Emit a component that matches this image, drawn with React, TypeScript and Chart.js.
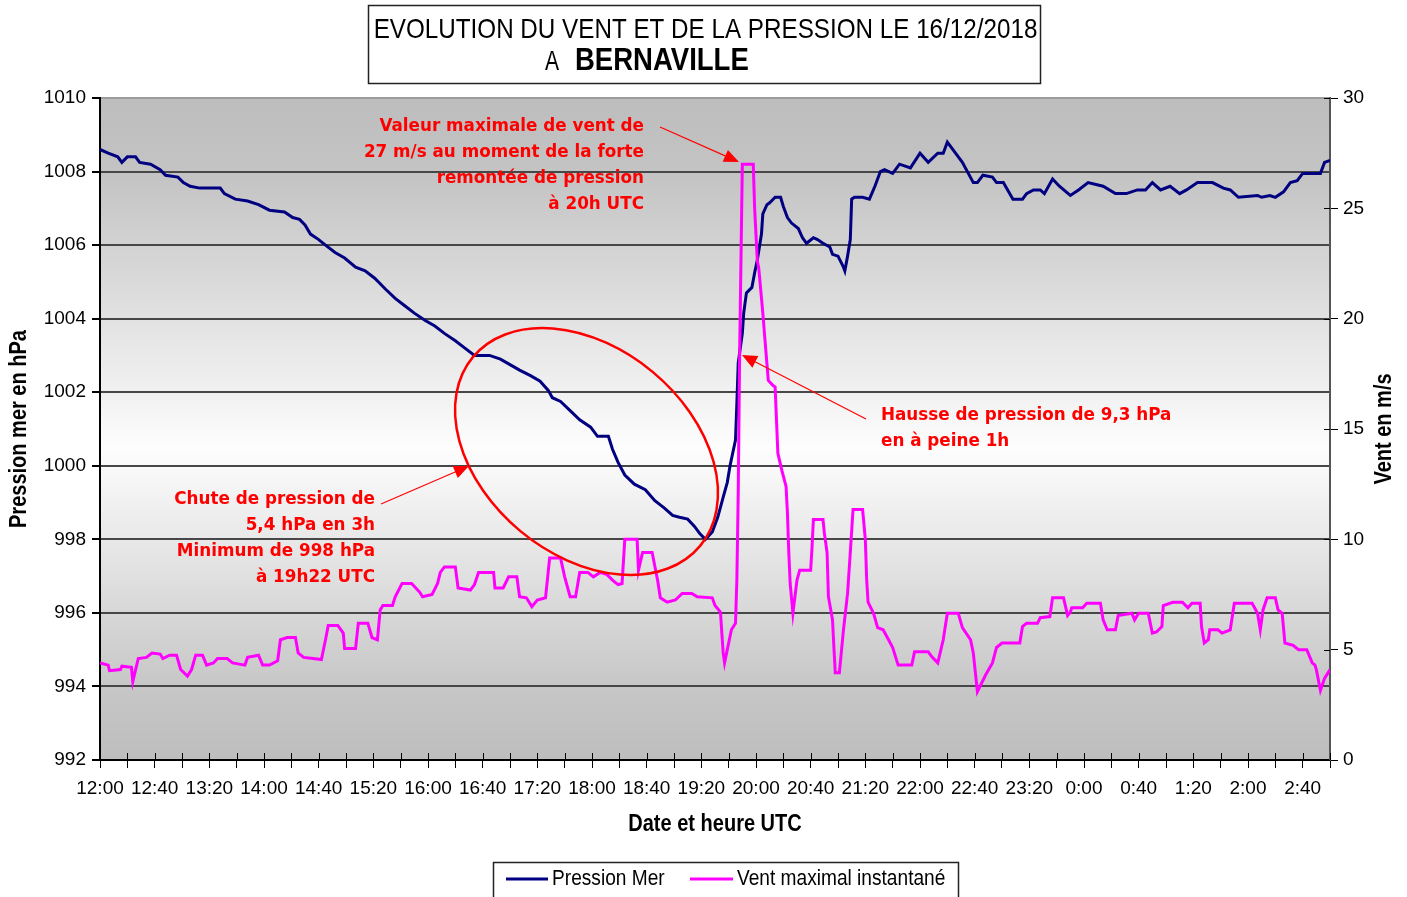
import React, { useEffect, useRef } from 'react';
import { Chart, registerables } from 'chart.js';

Chart.register(...registerables);

// ---------- texts ----------
const titleLine1 = 'EVOLUTION DU VENT ET DE LA PRESSION LE 16/12/2018';
const titlePrefix = 'A';
const titleStation = 'BERNAVILLE';
const pressureLabel = 'Pression Mer';
const windLabel = 'Vent maximal instantané';
const xAxisTitle = 'Date et heure UTC';
const yLeftTitle = 'Pression mer en hPa';
const yRightTitle = 'Vent en m/s';
const noteTop = ['Valeur maximale de vent de', '27 m/s au moment de la forte', 'remontée de pression', 'à 20h UTC'];
const noteRise = ['Hausse de pression de 9,3 hPa', 'en à peine 1h'];
const noteDrop = ['Chute de pression de', '5,4 hPa en 3h', 'Minimum de 998 hPa', 'à 19h22 UTC'];

// ---------- axes ----------
const xStart = '12:00';
const xEnd = '3:00';
const xTickStep = 20; // minutes
const xLabelStep = 40; // minutes
const pressureMin = 992;
const pressureMax = 1010;
const pressureStep = 2;
const windMin = 0;
const windMax = 30;
const windStep = 5;

// ---------- data ----------
const pressureTimes = [
  '12:00', '12:06', '12:13', '12:16', '12:20', '12:26', '12:29', '12:37', '12:44', '12:48',
  '12:57', '13:01', '13:06', '13:13', '13:28', '13:31', '13:39', '13:48', '13:56', '14:04',
  '14:15', '14:21', '14:26', '14:30', '14:34', '14:40', '14:45', '14:52', '14:59', '15:07',
  '15:14', '15:21', '15:29', '15:36', '15:43', '15:50', '15:58', '16:05', '16:12', '16:20',
  '16:27', '16:34', '16:45', '16:53', '17:00', '17:07', '17:15', '17:22', '17:28', '17:31',
  '17:37', '17:44', '17:51', '17:59', '18:04', '18:12', '18:15', '18:19', '18:24', '18:31',
  '18:39', '18:46', '18:53', '18:59', '19:04', '19:10', '19:15', '19:19', '19:23', '19:28',
  '19:32', '19:36', '19:39', '19:41', '19:45', '19:46', '19:47', '19:50', '19:51', '19:53',
  '19:57', '19:59', '20:01', '20:04', '20:05', '20:08', '20:10', '20:14', '20:18', '20:20',
  '20:23', '20:26', '20:31', '20:34', '20:37', '20:42', '20:45', '20:49', '20:54', '20:56',
  '21:00', '21:04', '21:05', '21:07', '21:09', '21:10', '21:12', '21:18', '21:23', '21:27',
  '21:31', '21:34', '21:40', '21:45', '21:53', '22:00', '22:06', '22:13', '22:17', '22:20',
  '22:26', '22:31', '22:39', '22:42', '22:46', '22:53', '22:56', '23:01', '23:08', '23:15',
  '23:18', '23:23', '23:28', '23:31', '23:37', '23:42', '23:50', '23:56', '0:03', '0:14',
  '0:23', '0:31', '0:39', '0:45', '0:50', '0:56', '1:03', '1:10', '1:15', '1:23',
  '1:34', '1:42', '1:47', '1:53', '2:07', '2:10', '2:16', '2:20', '2:26', '2:31',
  '2:36', '2:40', '2:53', '2:56', '3:00',
];
const pressureValues = [
  1008.6, 1008.5, 1008.4, 1008.25, 1008.4, 1008.4, 1008.25, 1008.2, 1008.05, 1007.9,
  1007.85, 1007.7, 1007.6, 1007.55, 1007.55, 1007.4, 1007.25, 1007.2, 1007.1, 1006.95,
  1006.9, 1006.75, 1006.7, 1006.55, 1006.3, 1006.15, 1006.0, 1005.8, 1005.65, 1005.4,
  1005.3, 1005.1, 1004.8, 1004.55, 1004.35, 1004.15, 1003.95, 1003.8, 1003.6, 1003.4,
  1003.2, 1003.0, 1003.0, 1002.9, 1002.75, 1002.6, 1002.45, 1002.3, 1002.05, 1001.85,
  1001.75, 1001.5, 1001.25, 1001.05, 1000.8, 1000.8, 1000.45, 1000.1, 999.75, 999.5,
  999.35, 999.05, 998.85, 998.65, 998.6, 998.55, 998.35, 998.15, 998.0, 998.2,
  998.6, 999.15, 999.55, 1000.0, 1000.7, 1001.7, 1002.8, 1003.6, 1004.15, 1004.7,
  1004.85, 1005.25, 1005.6, 1006.3, 1006.85, 1007.1, 1007.15, 1007.3, 1007.3, 1007.05,
  1006.75, 1006.6, 1006.45, 1006.2, 1006.05, 1006.2, 1006.15, 1006.05, 1005.95, 1005.75,
  1005.7, 1005.4, 1005.3, 1005.7, 1006.15, 1007.25, 1007.3, 1007.3, 1007.25, 1007.6,
  1008.0, 1008.05, 1007.95, 1008.2, 1008.1, 1008.5, 1008.25, 1008.5, 1008.5, 1008.8,
  1008.5, 1008.25, 1007.7, 1007.7, 1007.9, 1007.85, 1007.7, 1007.7, 1007.25, 1007.25,
  1007.4, 1007.5, 1007.5, 1007.4, 1007.8, 1007.6, 1007.35, 1007.5, 1007.7, 1007.6,
  1007.4, 1007.4, 1007.5, 1007.5, 1007.7, 1007.5, 1007.6, 1007.4, 1007.5, 1007.7,
  1007.7, 1007.55, 1007.5, 1007.3, 1007.35, 1007.3, 1007.35, 1007.3, 1007.45, 1007.7,
  1007.75, 1007.95, 1007.95, 1008.25, 1008.3,
];

const windTimes = [
  '12:00', '12:06', '12:07', '12:15', '12:16', '12:23', '12:24', '12:28', '12:34', '12:38',
  '12:44', '12:46', '12:51', '12:56', '12:59', '13:04', '13:07', '13:10', '13:15', '13:18',
  '13:23', '13:26', '13:33', '13:37', '13:46', '13:48', '13:56', '13:59', '14:04', '14:10',
  '14:12', '14:17', '14:23', '14:25', '14:29', '14:36', '14:42', '14:45', '14:47', '14:54',
  '14:58', '14:59', '15:07', '15:09', '15:16', '15:19', '15:23', '15:25', '15:27', '15:34',
  '15:36', '15:41', '15:48', '15:54', '15:56', '16:03', '16:07', '16:09', '16:12', '16:20',
  '16:22', '16:31', '16:34', '16:37', '16:48', '16:49', '16:55', '16:59', '17:05', '17:07',
  '17:12', '17:16', '17:20', '17:26', '17:29', '17:37', '17:40', '17:44', '17:48', '17:51',
  '17:57', '18:01', '18:06', '18:11', '18:15', '18:19', '18:22', '18:24', '18:33', '18:34',
  '18:37', '18:44', '18:48', '18:50', '18:55', '19:01', '19:06', '19:13', '19:17', '19:28',
  '19:30', '19:34', '19:35', '19:36', '19:37', '19:39', '19:42', '19:45', '19:46', '19:47',
  '19:48', '19:50', '19:58', '19:59', '20:01', '20:02', '20:05', '20:07', '20:09', '20:12',
  '20:14', '20:15', '20:16', '20:19', '20:22', '20:23', '20:24', '20:25', '20:27', '20:30',
  '20:32', '20:40', '20:41', '20:42', '20:49', '20:50', '20:52', '20:53', '20:56', '20:57',
  '20:58', '21:01', '21:04', '21:07', '21:09', '21:11', '21:18', '21:20', '21:21', '21:22',
  '21:26', '21:29', '21:33', '21:37', '21:40', '21:44', '21:54', '21:56', '22:06', '22:09',
  '22:13', '22:17', '22:20', '22:28', '22:31', '22:37', '22:39', '22:42', '22:48', '22:53',
  '22:56', '23:00', '23:13', '23:15', '23:18', '23:26', '23:28', '23:35', '23:37', '23:45',
  '23:48', '23:50', '23:51', '23:59', '0:02', '0:12', '0:14', '0:17', '0:23', '0:25',
  '0:35', '0:37', '0:40', '0:47', '0:50', '0:53', '0:57', '0:58', '1:05', '1:12',
  '1:16', '1:19', '1:25', '1:26', '1:28', '1:31', '1:32', '1:38', '1:41', '1:47',
  '1:50', '2:03', '2:07', '2:09', '2:11', '2:14', '2:20', '2:22', '2:25', '2:27',
  '2:33', '2:37', '2:43', '2:47', '2:49', '2:50', '2:53', '2:56', '3:00',
];
const windValues = [
  4.4, 4.3, 4.05, 4.1, 4.25, 4.2, 3.55, 4.6, 4.65, 4.85,
  4.8, 4.6, 4.75, 4.75, 4.1, 3.8, 4.1, 4.75, 4.75, 4.3,
  4.4, 4.6, 4.6, 4.4, 4.3, 4.65, 4.75, 4.3, 4.3, 4.5,
  5.45, 5.55, 5.55, 4.85, 4.65, 4.6, 4.55, 5.45, 6.1, 6.1,
  5.75, 5.05, 5.05, 6.2, 6.2, 5.55, 5.45, 6.8, 7.0, 7.0,
  7.4, 8.0, 8.0, 7.6, 7.4, 7.5, 8.0, 8.5, 8.75, 8.75,
  7.8, 7.7, 7.95, 8.5, 8.5, 7.8, 7.8, 8.3, 8.3, 7.4,
  7.35, 6.95, 7.25, 7.35, 9.15, 9.15, 8.3, 7.4, 7.4, 8.5,
  8.5, 8.3, 8.5, 8.4, 8.15, 7.95, 8.0, 10.0, 10.0, 8.6,
  9.4, 9.4, 8.15, 7.35, 7.15, 7.25, 7.55, 7.55, 7.4, 7.35,
  7.0, 6.7, 5.75, 4.85, 4.4, 5.0, 5.9, 6.2, 8.15, 12.1,
  18.25, 27.0, 27.0, 25.0, 22.6, 22.3, 20.25, 18.7, 17.2, 17.0,
  16.9, 15.4, 13.9, 13.1, 12.4, 11.2, 9.4, 8.0, 6.65, 8.15,
  8.6, 8.6, 9.65, 10.9, 10.9, 10.3, 9.4, 7.4, 6.35, 5.1,
  3.95, 3.95, 5.9, 7.55, 9.4, 11.35, 11.35, 10.0, 8.15, 7.15,
  6.65, 6.0, 5.9, 5.45, 5.1, 4.3, 4.3, 4.9, 4.9, 4.65,
  4.4, 5.45, 6.65, 6.65, 6.0, 5.45, 4.85, 3.1, 3.85, 4.4,
  5.1, 5.3, 5.3, 6.05, 6.2, 6.2, 6.45, 6.5, 7.35, 7.35,
  6.55, 6.7, 6.9, 6.9, 7.1, 7.1, 6.35, 5.9, 5.9, 6.55,
  6.65, 6.35, 6.65, 6.65, 5.75, 5.8, 6.05, 7.0, 7.15, 7.15,
  6.9, 7.1, 7.1, 6.05, 5.3, 5.45, 5.9, 5.9, 5.75, 5.9,
  7.1, 7.1, 6.65, 5.9, 6.8, 7.35, 7.35, 6.8, 6.65, 5.3,
  5.2, 5.0, 5.0, 4.4, 4.3, 4.1, 3.15, 3.7, 4.1,
];

// ---------- helpers ----------
const W = 1407;
const H = 897;
const START_MIN = 12 * 60;

function toMinutes(s: string): number {
  const [h, m] = s.split(':').map(Number);
  let v = h * 60 + m - START_MIN;
  if (v < 0) v += 24 * 60;
  return v;
}

function formatMinutes(v: number): string {
  const total = START_MIN + v;
  const h = Math.floor(total / 60) % 24;
  const m = total % 60;
  return `${h}:${String(m).padStart(2, '0')}`;
}

function fontAvailable(name: string): boolean {
  const c = document.createElement('canvas').getContext('2d');
  if (!c) return false;
  const probe = '12:00 abcdefghijWXYZ';
  c.font = '40px monospace';
  const a = c.measureText(probe).width;
  c.font = `40px '${name}', monospace`;
  const b = c.measureText(probe).width;
  return Math.abs(a - b) > 0.5;
}

const SANS = "'Liberation Sans', Arial, sans-serif";
const BOLD_NOTE = "'DejaVu Sans', Verdana, sans-serif";

function drawText(ctx: any, s: string, x: number, y: number, size: number, o: any = {}) {
  const { bold = false, family = SANS, align = 'left', k = 0.85, color = '#000', rot = 0, baseline = 'middle' } = o;
  ctx.save();
  ctx.translate(x, y);
  if (rot) ctx.rotate(rot);
  ctx.scale(k, 1);
  ctx.font = `${bold ? 'bold ' : ''}${size}px ${family}`;
  ctx.textAlign = align;
  ctx.textBaseline = baseline;
  ctx.fillStyle = color;
  ctx.fillText(s, 0, 0);
  ctx.restore();
}

function arrow(ctx: any, x1: number, y1: number, x2: number, y2: number) {
  const ang = Math.atan2(y2 - y1, x2 - x1);
  const len = 15;
  const hw = 6.5;
  ctx.save();
  ctx.strokeStyle = '#ff0000';
  ctx.fillStyle = '#ff0000';
  ctx.lineWidth = 1.2;
  ctx.beginPath();
  ctx.moveTo(x1, y1);
  ctx.lineTo(x2 - Math.cos(ang) * len * 0.8, y2 - Math.sin(ang) * len * 0.8);
  ctx.stroke();
  ctx.beginPath();
  ctx.moveTo(x2, y2);
  const bx = x2 - Math.cos(ang) * len;
  const by = y2 - Math.sin(ang) * len;
  ctx.lineTo(bx + Math.sin(ang) * hw, by - Math.cos(ang) * hw);
  ctx.lineTo(bx - Math.sin(ang) * hw, by + Math.cos(ang) * hw);
  ctx.closePath();
  ctx.fill();
  ctx.restore();
}

const backgroundPlugin = {
  id: 'bgGradient',
  beforeDraw(chart: any) {
    const { ctx, chartArea } = chart;
    const { left, top, right, bottom } = chartArea;
    ctx.save();
    ctx.fillStyle = '#ffffff';
    ctx.fillRect(0, 0, chart.width, chart.height);
    const g = ctx.createLinearGradient(0, top, 0, bottom);
    g.addColorStop(0, '#bdbdbd');
    g.addColorStop(0.12, '#c4c4c4');
    g.addColorStop(0.53, '#fdfdfd');
    g.addColorStop(0.88, '#c8c8c8');
    g.addColorStop(1, '#bdbdbd');
    ctx.fillStyle = g;
    ctx.fillRect(left, top, right - left, bottom - top);
    ctx.restore();
  },
};

const annotationPlugin = {
  id: 'notes',
  afterDatasetsDraw(chart: any) {
    const { ctx } = chart;
    // red ellipse around the pressure fall
    ctx.save();
    ctx.strokeStyle = '#ff0000';
    ctx.lineWidth = 2.5;
    ctx.beginPath();
    ctx.ellipse(586.5, 451.5, 147.7, 103.5, (39.7 * Math.PI) / 180, 0, Math.PI * 2);
    ctx.stroke();
    ctx.restore();

    arrow(ctx, 660, 127, 739, 162);
    arrow(ctx, 866, 419, 742, 355);
    arrow(ctx, 381, 504, 469, 466);

    const noteOpts = { bold: true, family: BOLD_NOTE, color: '#ff0000', k: 1 };
    noteTop.forEach((s, i) => drawText(ctx, s, 644, 127 + i * 26, 16.8, { ...noteOpts, align: 'right' }));
    noteRise.forEach((s, i) => drawText(ctx, s, 881, 416 + i * 26, 16.8, { ...noteOpts, align: 'left' }));
    noteDrop.forEach((s, i) => drawText(ctx, s, 375, 500 + i * 26, 16.8, { ...noteOpts, align: 'right' }));
  },
  afterDraw(chart: any) {
    const { ctx, chartArea } = chart;
    const { left, right, top, bottom } = chartArea;
    const xs = chart.scales.x;
    const yw = chart.scales.yW;
    ctx.save();
    // inner halves of crossing tick marks
    ctx.strokeStyle = '#000';
    ctx.lineWidth = 1;
    xs.ticks.forEach((t: any) => {
      const px = Math.round(xs.getPixelForValue(t.value)) + 0.5;
      ctx.beginPath();
      ctx.moveTo(px, bottom - 7);
      ctx.lineTo(px, bottom);
      ctx.stroke();
    });
    yw.ticks.forEach((t: any) => {
      const py = Math.round(yw.getPixelForValue(t.value)) + 0.5;
      ctx.beginPath();
      ctx.moveTo(right - 6, py);
      ctx.lineTo(right, py);
      ctx.stroke();
    });
    ctx.restore();

    // axis titles
    const midY = (top + bottom) / 2;
    drawText(ctx, yLeftTitle, left - 80, midY, 23, { bold: true, align: 'center', rot: -Math.PI / 2, k: 0.87 });
    drawText(ctx, yRightTitle, right + 55, midY, 23, { bold: true, align: 'center', rot: -Math.PI / 2, k: 0.87 });
    drawText(ctx, xAxisTitle, (left + right) / 2, bottom + 65, 23, { bold: true, align: 'center', k: 0.87 });

    // title box
    ctx.save();
    ctx.fillStyle = '#ffffff';
    ctx.fillRect(368, 5, 673, 79);
    ctx.strokeStyle = '#222';
    ctx.lineWidth = 1.5;
    ctx.strokeRect(368.5, 5.5, 672, 78);
    ctx.restore();
    drawText(ctx, titleLine1, 705.5, 38, 28.5, { align: 'center', baseline: 'alphabetic', k: 0.85 });
    drawText(ctx, titlePrefix, 545, 70, 27, { align: 'left', baseline: 'alphabetic', k: 0.78 });
    drawText(ctx, titleStation, 575, 70, 32, { bold: true, align: 'left', baseline: 'alphabetic', k: 0.86 });

    // legend box
    ctx.save();
    ctx.fillStyle = '#ffffff';
    ctx.fillRect(493, 862, 466, 40);
    ctx.strokeStyle = '#222';
    ctx.lineWidth = 1.5;
    ctx.strokeRect(493.5, 862.5, 465, 40);
    ctx.lineWidth = 3;
    ctx.strokeStyle = '#000080';
    ctx.beginPath();
    ctx.moveTo(506, 879);
    ctx.lineTo(548, 879);
    ctx.stroke();
    ctx.strokeStyle = '#ff00ff';
    ctx.beginPath();
    ctx.moveTo(690, 879);
    ctx.lineTo(733, 879);
    ctx.stroke();
    ctx.restore();
    drawText(ctx, pressureLabel, 552, 879, 22.5, { align: 'left', k: 0.85 });
    drawText(ctx, windLabel, 737, 879, 22.5, { align: 'left', k: 0.85 });
  },
};

export default function App() {
  const ref = useRef<HTMLCanvasElement | null>(null);

  useEffect(() => {
    document.body.style.margin = '0';
    const canvas = ref.current;
    if (!canvas) return;
    const narrow = fontAvailable('Liberation Sans Narrow');
    const tickFont = narrow
      ? { family: "'Liberation Sans Narrow', 'Arial Narrow', sans-serif", size: 22.5 }
      : { family: SANS, size: 19 };

    const xMin = toMinutes(xStart);
    const xMax = toMinutes(xEnd);

    const pressureData = pressureTimes.map((t, i) => ({ x: toMinutes(t), y: pressureValues[i] }));
    const windData = windTimes.map((t, i) => ({ x: toMinutes(t), y: windValues[i] }));

    const chart = new Chart(canvas, {
      type: 'line',
      data: {
        datasets: [
          {
            label: windLabel,
            data: windData,
            yAxisID: 'yW',
            borderColor: '#ff00ff',
            backgroundColor: '#ff00ff',
            borderWidth: 3,
            pointRadius: 0,
            tension: 0,
            order: 0,
          },
          {
            label: pressureLabel,
            data: pressureData,
            yAxisID: 'yP',
            borderColor: '#000080',
            backgroundColor: '#000080',
            borderWidth: 3,
            pointRadius: 0,
            tension: 0,
            order: 1,
          },
        ],
      },
      options: {
        animation: false,
        responsive: false,
        maintainAspectRatio: false,
        events: [],
        layout: { padding: { top: 98, bottom: 57, left: 0, right: 0 } },
        plugins: { legend: { display: false }, tooltip: { enabled: false }, title: { display: false } },
        scales: {
          x: {
            type: 'linear',
            position: 'bottom',
            min: xMin,
            max: xMax,
            afterBuildTicks: (scale: any) => {
              const ticks = [];
              for (let v = xMin; v <= xMax; v += xTickStep) ticks.push({ value: v });
              scale.ticks = ticks;
            },
            afterFit: (scale: any) => {
              scale.height = 80;
            },
            ticks: {
              autoSkip: false,
              maxRotation: 0,
              minRotation: 0,
              padding: 9,
              color: '#000',
              font: tickFont,
              callback: (v: any) => (Number(v) % xLabelStep === 0 ? formatMinutes(Number(v)) : ''),
            },
            grid: { display: true, drawOnChartArea: false, drawTicks: true, tickLength: 8, tickColor: '#000', color: '#000' },
            border: { display: true, color: '#000', width: 2 },
          },
          yP: {
            type: 'linear',
            position: 'left',
            min: pressureMin,
            max: pressureMax,
            afterFit: (scale: any) => {
              scale.width = 100;
            },
            ticks: { stepSize: pressureStep, padding: 6, color: '#000', font: tickFont, callback: (v: any) => String(v) },
            grid: {
              drawTicks: true,
              tickLength: 8,
              tickColor: '#000',
              lineWidth: 2,
              color: (c: any) => (c.tick && c.tick.value === pressureMax ? '#9c9c9c' : '#474747'),
            },
            border: { display: true, color: '#000', width: 2 },
          },
          yW: {
            type: 'linear',
            position: 'right',
            min: windMin,
            max: windMax,
            afterFit: (scale: any) => {
              scale.width = W - 1330;
            },
            ticks: { stepSize: windStep, padding: 5, color: '#000', font: tickFont, callback: (v: any) => String(v) },
            grid: { drawOnChartArea: false, drawTicks: true, tickLength: 8, tickColor: '#000' },
            border: { display: true, color: '#555', width: 2 },
          },
        },
      } as any,
      plugins: [backgroundPlugin, annotationPlugin],
    } as any);

    return () => chart.destroy();
  }, []);

  return (
    <div style={{ position: 'fixed', left: 0, top: 0, width: W, height: H, background: '#fff' }}>
      <canvas ref={ref} width={W} height={H} style={{ display: 'block', width: W, height: H }} />
    </div>
  );
}
